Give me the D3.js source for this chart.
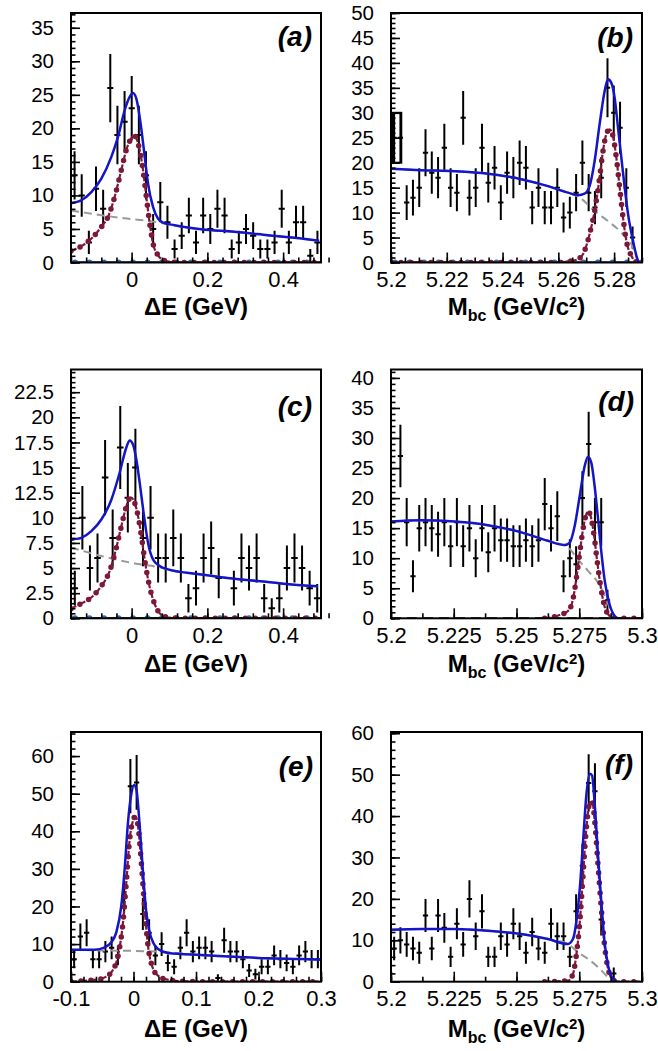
<!DOCTYPE html>
<html>
<head>
<meta charset="utf-8">
<script src="https://cdn.jsdelivr.net/npm/d3@7"></script>
<style>
  body { margin: 0; background: #fff; }
  svg { display: block; }
</style>
</head>
<body>
<svg width="658" height="1051"></svg>
<script>
// ---------- data ----------

// (a) Delta E
const countsA = [13,10,3,11,8,26,19,21,23,19,13,5,9,6,2,4,7,3,7,5,8,7,2,3,5,4,2,2,3,8,3,6,6,1,3];
const totalA = [[-0.16,8.85],[-0.1327,9.28],[-0.1063,10.5],[-0.0799,12.5],[-0.0535,15.74],[-0.0359,18.72],[-0.0183,22.7],[-0.0051,24.68],[0.0037,25.27],[0.0125,24.43],[0.0213,21.7],[0.0327,16.7],[0.0433,11.8],[0.0565,8.29],[0.0697,6.55],[0.0829,5.96],[0.1137,5.56],[0.184,4.97],[0.272,4.57],[0.36,4.07],[0.448,3.57],[0.495,3.25]];
const signalA = [[-0.16,1.7],[-0.1547,1.84],[-0.1283,2.58],[-0.1019,3.82],[-0.0799,5.31],[-0.0623,6.8],[-0.0447,9.8],[-0.0271,13.8],[-0.0139,16.8],[-0.0007,18.52],[0.0055,19.0],[0.0125,18.52],[0.0213,16.8],[0.0301,13.8],[0.0389,9.8],[0.0477,5.86],[0.0565,2.83],[0.0697,1.09],[0.0829,0.35],[0.1137,0.05],[0.15,0],[0.5,0]];
const bkgA = [[-0.16,7.75],[-0.12,7.4],[-0.08,7.05],[-0.02,6.6],[0.0433,6.2],[0.0829,5.85],[0.1137,5.5],[0.184,4.95],[0.272,4.55],[0.36,4.05],[0.448,3.55],[0.495,3.22]];

// (b) Mbc
const countsB = [25,25,12,13,15,22,18,17,23,15,14,29,13,15,23,16,19,12,18,17,20,19,11,15,11,11,15,9,10,14,20,14,11,17,35,30,27,15,5,0];
const totalB = [[5.2,18.8],[5.2109,18.5],[5.2228,18.3],[5.2348,17.8],[5.2467,16.7],[5.2563,15.3],[5.2635,14.0],[5.2671,13.5],[5.2694,13.8],[5.2712,15.3],[5.273,20.3],[5.2748,27.7],[5.2766,34.3],[5.2778,36.7],[5.279,36.0],[5.2802,33.0],[5.2814,27.0],[5.2826,21.0],[5.2838,15.0],[5.285,9.7],[5.2868,4.3],[5.2886,0.33],[5.289,0]];
const signalB = [[5.2,0],[5.26,0],[5.2635,0.2],[5.2671,0.67],[5.2694,2.33],[5.2712,5.67],[5.273,10.3],[5.2748,17.0],[5.276,22.3],[5.2772,25.7],[5.2784,26.7],[5.2796,25.3],[5.2808,21.0],[5.282,15.0],[5.2832,9.0],[5.2844,4.3],[5.2862,1.33],[5.2886,0],[5.29,0]];
const bkgB = [[5.2,18.8],[5.2109,18.5],[5.2228,18.3],[5.2348,17.8],[5.2467,16.7],[5.2563,15.3],[5.2635,14.0],[5.2677,13.0],[5.273,10.3],[5.2778,8.3],[5.2826,6.0],[5.2868,3.0],[5.2886,0.33],[5.289,0]];

// (c) Delta E
const countsC = [3,10,5,6,14,8,17,12,15,8,10,6,6,8,6,2,3,6,7,4,0,3,6,5,6,2,1,2,5,6,5,3,2];
const totalC = [[-0.16,7.8],[-0.1547,7.85],[-0.1327,8.01],[-0.1063,8.68],[-0.0799,9.83],[-0.0535,11.8],[-0.0315,14.5],[-0.0139,17.0],[-0.0051,17.7],[0.0037,17.3],[0.0125,15.8],[0.0213,13.5],[0.0327,10.2],[0.0433,7.52],[0.0565,5.86],[0.0741,5.2],[0.0961,4.87],[0.184,4.37],[0.272,3.94],[0.36,3.61],[0.448,3.28],[0.492,3.2]];
const signalC = [[-0.16,0.95],[-0.1547,1.06],[-0.1283,1.56],[-0.1019,2.22],[-0.0799,3.21],[-0.0579,4.7],[-0.0403,7.02],[-0.0271,9.17],[-0.0165,10.8],[-0.0077,11.8],[-0.0007,12.0],[0.0081,11.5],[0.0169,10.2],[0.0257,8.2],[0.0345,5.86],[0.0433,3.9],[0.0565,1.89],[0.0697,0.73],[0.0873,0.17],[0.1137,0.02],[0.15,0],[0.5,0]];
const bkgC = [[-0.16,7.05],[-0.0799,6.2],[0.0081,5.46],[0.0785,5.03],[0.0961,4.85],[0.184,4.37],[0.272,3.94],[0.36,3.61],[0.448,3.28],[0.492,3.19]];

// (d) Mbc
const countsD = [0,27,16,7,15,16,15,14,16,12,16,12,15,10,15,11,15,13,13,12,12,13,12,13,19,15,17,7,10,9,20,29,16,16,3,0,0,0,0,0];
const totalD = [[5.2,16.1],[5.2121,16.3],[5.2254,16.1],[5.2386,15.5],[5.2519,14.3],[5.2625,12.9],[5.2692,12.2],[5.2712,12.6],[5.2732,15.4],[5.2752,20.4],[5.2772,25.4],[5.2785,26.9],[5.2798,25.9],[5.2811,22.1],[5.2825,16.5],[5.2838,11.0],[5.2851,6.4],[5.2871,2.3],[5.2891,0.39],[5.2904,0]];
const signalD = [[5.2612,0],[5.2652,0.28],[5.2679,0.67],[5.2705,1.22],[5.2725,3.17],[5.2738,6.5],[5.2752,10.9],[5.2765,14.8],[5.2778,17.3],[5.2785,17.8],[5.2795,17.06],[5.2809,13.8],[5.2822,9.3],[5.2835,5.4],[5.2849,2.3],[5.2865,0.67],[5.2891,0],[5.3,0]];
const bkgD = [[5.2,16.1],[5.2121,16.3],[5.2254,16.1],[5.2386,15.5],[5.2519,14.3],[5.2625,12.9],[5.2652,12.6],[5.2705,11.8],[5.2745,9.8],[5.2785,7.9],[5.2825,5.9],[5.2858,3.2],[5.2878,0.94],[5.2891,0]];

// (e) Delta E
const countsE = [6,12,13,6,6,8,9,7,23,52,53,18,13,7,10,5,4,9,13,8,9,9,8,1,11,8,8,6,3,2,4,4,7,6,5,4,7,8,6,6];
const totalE = [[-0.1,8.51],[-0.0621,8.51],[-0.0461,9.13],[-0.0355,10.5],[-0.0275,13.1],[-0.0195,20.2],[-0.0141,30.0],[-0.0088,42.4],[-0.0035,49.9],[0.0008,52.3],[0.0045,51.2],[0.0099,41.5],[0.0152,29.1],[0.0205,18.4],[0.0259,13.1],[0.0312,10.5],[0.0392,8.69],[0.0552,7.62],[0.1085,7.09],[0.1619,6.65],[0.2152,6.21],[0.2685,6.03],[0.3,5.85]];
const signalE = [[-0.1,0.05],[-0.0595,0.53],[-0.0461,1.15],[-0.0355,2.48],[-0.0248,6.91],[-0.0168,15.8],[-0.0115,26.4],[-0.0061,37.9],[-0.0008,42.8],[0.0029,44.0],[0.0072,41.5],[0.0125,31.7],[0.0179,19.3],[0.0232,9.57],[0.0296,4.26],[0.0392,1.6],[0.0552,0.53],[0.0819,0.09],[0.12,0],[0.3,0]];
const bkgE = [[-0.1,8.5],[-0.05,8.3],[0,8.2],[0.05,7.9],[0.1085,7.05],[0.1619,6.6],[0.2152,6.2],[0.2685,6.0],[0.3,5.83]];

// (f) Mbc
const countsF = [8,10,9,8,7,16,8,16,13,6,14,9,20,11,17,6,6,11,9,14,11,7,12,8,7,14,11,11,6,17,28,48,46,15,0,2,0,0,0,0];
const totalF = [[5.2,12.56],[5.2121,12.72],[5.2254,12.72],[5.2386,12.32],[5.2519,11.51],[5.2625,10.3],[5.2705,9.1],[5.2725,10.3],[5.2738,14.3],[5.2752,22.4],[5.2765,33.7],[5.2778,44.9],[5.2792,50.2],[5.2801,49.8],[5.2812,42.5],[5.2825,30.4],[5.2838,19.2],[5.2851,9.5],[5.2865,3.9],[5.2884,0.64],[5.2898,0]];
const signalF = [[5.2612,0],[5.2705,0.24],[5.2725,1.85],[5.2738,6.3],[5.2752,14.3],[5.2765,25.6],[5.2778,36.9],[5.2792,43.3],[5.2801,43.7],[5.2812,38.5],[5.2825,28.0],[5.2838,17.6],[5.2851,8.7],[5.2865,3.06],[5.2884,0.48],[5.2904,0],[5.3,0]];
const bkgF = [[5.2,12.56],[5.2121,12.72],[5.2254,12.72],[5.2386,12.32],[5.2519,11.51],[5.2625,10.3],[5.2705,9.1],[5.2745,7.1],[5.2785,5.5],[5.2825,3.5],[5.2858,1.45],[5.2878,0.24],[5.289,0]];

// tick labels
const yTicksA = [0,5,10,15,20,25,30,35];
const yTicksB = [0,5,10,15,20,25,30,35,40,45,50];
const yTicksC = [0,2.5,5,7.5,10,12.5,15,17.5,20,22.5];
const yTicksD = [0,5,10,15,20,25,30,35,40];
const yTicksEF = [0,10,20,30,40,50,60];
const xTicksDE = [0,0.2,0.4];
const xTicksDEe = [-0.1,0,0.1,0.2,0.3];
const xTicksMbcB = [5.2,5.22,5.24,5.26,5.28];
const xTicksMbc = [5.2,5.225,5.25,5.275,5.3];

// ---------- layout ----------
const FONT = "'Liberation Sans', Arial, Helvetica, sans-serif";
const BLUE = "#1414c8", MAROON = "#7d1838", GREY = "#999999";

const panels = [
  {label:'(a)', counts:countsA, total:totalA, signal:signalA, bkg:bkgA, xDomain:[-0.16,0.5], yMax:37.2,
   yTicks:yTicksA, yMinor:1, xTicks:xTicksDE, xMinor:0.04, frame:[71,13,321,262.5], zero:'dots',
   title:'de', titleY:315, labelPos:[312,46]},
  {label:'(b)', counts:countsB, total:totalB, signal:signalB, bkg:bkgB, xDomain:[5.2,5.29], yMax:50,
   yTicks:yTicksB, yMinor:1, xTicks:xTicksMbcB, xMinor:0.005, frame:[391,13,642,262.5], zero:'dots',
   title:'mbc', titleY:315, labelPos:[633,47], firstBox:true},
  {label:'(c)', counts:countsC, total:totalC, signal:signalC, bkg:bkgC, xDomain:[-0.16,0.5], yMax:24.76,
   yTicks:yTicksC, yMinor:0.5, xTicks:xTicksDE, xMinor:0.04, frame:[71,369.5,321,618.3], zero:'dots',
   title:'de', titleY:672, labelPos:[312,416]},
  {label:'(d)', counts:countsD, total:totalD, signal:signalD, bkg:bkgD, xDomain:[5.2,5.3], yMax:41.4,
   yTicks:yTicksD, yMinor:1, xTicks:xTicksMbc, xMinor:0.0125, frame:[391,369.5,642,618.3], zero:'dash',
   title:'mbc', titleY:672, labelPos:[634,411]},
  {label:'(e)', counts:countsE, total:totalE, signal:signalE, bkg:bkgE, xDomain:[-0.1,0.3], yMax:66.4,
   yTicks:yTicksEF, yMinor:2, xTicks:xTicksDEe, xMinor:0.02, frame:[71,732,321,981.7], zero:null,
   title:'de', titleY:1037, labelPos:[313,776]},
  {label:'(f)', counts:countsF, total:totalF, signal:signalF, bkg:bkgF, xDomain:[5.2,5.3], yMax:60.3,
   yTicks:yTicksEF, yMinor:2, xTicks:xTicksMbc, xMinor:0.0125, frame:[391,732,642,981.7], zero:null,
   title:'mbc', titleY:1037, labelPos:[633,774]}
];

const svg = d3.select('svg');
svg.append('rect').attr('width', 658).attr('height', 1051).attr('fill', '#fff');

panels.forEach((p, i) => drawPanel(p, i));

function drawPanel(p, idx) {
  const [L, T, R, B] = p.frame;
  const x = d3.scaleLinear().domain(p.xDomain).range([L, R]);
  const y = d3.scaleLinear().domain([0, p.yMax]).range([B, T]);
  const g = svg.append('g');

  const clipId = 'clip' + idx;
  g.append('clipPath').attr('id', clipId)
    .append('rect').attr('x', L).attr('y', T).attr('width', R - L).attr('height', B - T);
  const plot = g.append('g').attr('clip-path', `url(#${clipId})`);

  const line = d3.line().x(d => x(d[0])).y(d => y(d[1])).curve(d3.curveMonotoneX);

  // zero line of the extra component
  if (p.zero === 'dots') {
    const zl = [[p.xDomain[0], 0], [p.xDomain[1], 0]];
    plot.append('path').attr('d', line(zl)).attr('fill', 'none')
      .attr('stroke', '#1d3c5c').attr('stroke-width', 2.4);
    plot.append('path').attr('d', line(zl)).attr('fill', 'none')
      .attr('stroke', '#2f6fb0').attr('stroke-width', 6)
      .attr('stroke-linecap', 'round').attr('stroke-dasharray', '0 14.5')
      .attr('stroke-dashoffset', -4);
  } else if (p.zero === 'dash') {
    plot.append('path').attr('d', line([[p.xDomain[0], 0], [p.xDomain[1], 0]]))
      .attr('fill', 'none').attr('stroke', '#2f4f6c').attr('stroke-width', 2.4)
      .attr('stroke-dasharray', '10 6');
  }

  // data points with Poisson error bars
  const n = p.counts.length;
  const bw = (p.xDomain[1] - p.xDomain[0]) / n;
  const bins = p.counts.map((c, i) => ({
    lo: p.xDomain[0] + i * bw, hi: p.xDomain[0] + (i + 1) * bw,
    mid: p.xDomain[0] + (i + 0.5) * bw, c: c, e: Math.sqrt(c)
  })).filter(d => d.c > 0);

  const pts = plot.append('g').attr('stroke', '#000').attr('stroke-width', 2);
  pts.selectAll('line.v').data(bins).join('line').attr('class', 'v')
    .attr('x1', d => x(d.mid)).attr('x2', d => x(d.mid))
    .attr('y1', d => y(d.c - d.e)).attr('y2', d => y(d.c + d.e));
  pts.selectAll('line.h').data(bins).join('line').attr('class', 'h')
    .attr('x1', d => x(d.lo) + 0.5).attr('x2', d => x(d.hi) - 0.5)
    .attr('y1', d => y(d.c)).attr('y2', d => y(d.c));
  if (p.firstBox) {
    const d = bins[0];
    pts.append('rect')
      .attr('x', x(d.lo) + 2).attr('y', y(d.c + d.e))
      .attr('width', x(d.hi) - x(d.lo) + 2).attr('height', y(d.c - d.e) - y(d.c + d.e))
      .attr('fill', 'none');
  }

  // background component
  plot.append('path').attr('d', line(p.bkg)).attr('fill', 'none')
    .attr('stroke', GREY).attr('stroke-width', 2).attr('stroke-dasharray', '8 5');

  // signal component: dashed line with round markers
  plot.append('path').attr('d', line(p.signal)).attr('fill', 'none')
    .attr('stroke', MAROON).attr('stroke-width', 2.2).attr('stroke-dasharray', '6 4');
  plot.append('path').attr('d', line(p.signal)).attr('fill', 'none')
    .attr('stroke', MAROON).attr('stroke-width', 5.5)
    .attr('stroke-linecap', 'round').attr('stroke-dasharray', '0 10');

  // total fit
  plot.append('path').attr('d', line(p.total)).attr('fill', 'none')
    .attr('stroke', BLUE).attr('stroke-width', 2.5);

  // axes
  const yMinorTicks = d3.range(0, p.yMax + 1e-9, p.yMinor);
  g.append('g').attr('transform', `translate(${L},0)`)
    .call(d3.axisLeft(y).tickValues(yMinorTicks).tickSizeInner(-4.5).tickSizeOuter(0).tickFormat(''))
    .call(a => a.select('.domain').remove());
  g.append('g').attr('transform', `translate(${L},0)`)
    .call(d3.axisLeft(y).tickValues(p.yTicks).tickSizeInner(-9).tickSizeOuter(0)
      .tickPadding(17).tickFormat(d => String(d)))
    .call(a => a.select('.domain').remove())
    .call(a => a.selectAll('text').attr('font-size', 20.5).attr('font-family', FONT).attr('fill', '#000'));

  const xMinorTicks = d3.range(0, Math.round((p.xDomain[1] - p.xDomain[0]) / p.xMinor) + 1)
    .map(k => p.xDomain[0] + k * p.xMinor);
  g.append('g').attr('transform', `translate(0,${B})`)
    .call(d3.axisBottom(x).tickValues(xMinorTicks).tickSizeInner(-5).tickSizeOuter(0).tickFormat(''))
    .call(a => a.select('.domain').remove());
  g.append('g').attr('transform', `translate(0,${B})`)
    .call(d3.axisBottom(x).tickValues(p.xTicks).tickSizeInner(-10).tickSizeOuter(0)
      .tickPadding(9).tickFormat(d => String(d)))
    .call(a => a.select('.domain').remove())
    .call(a => a.selectAll('text').attr('font-size', 22).attr('font-family', FONT).attr('fill', '#000'));
  g.selectAll('.tick line').attr('stroke', '#000').attr('stroke-width', 1.6);

  // frame
  g.append('rect').attr('x', L).attr('y', T).attr('width', R - L).attr('height', B - T)
    .attr('fill', 'none').attr('stroke', '#000').attr('stroke-width', 2);

  // panel label
  g.append('text').attr('x', p.labelPos[0]).attr('y', p.labelPos[1])
    .attr('text-anchor', 'end').attr('font-family', FONT)
    .attr('font-weight', 'bold').attr('font-style', 'italic').attr('font-size', 28)
    .text(p.label);

  // axis title
  const cx = (L + R) / 2;
  const t = g.append('text').attr('x', cx).attr('y', p.titleY).attr('text-anchor', 'middle')
    .attr('font-family', FONT).attr('font-weight', 'bold').attr('font-size', 24);
  if (p.title === 'de') {
    t.text('\u0394E (GeV)');
  } else {
    t.append('tspan').text('M');
    t.append('tspan').attr('font-size', 16).attr('dy', 6).text('bc');
    t.append('tspan').attr('dy', -6).text(' (GeV/c');
    t.append('tspan').attr('font-size', 15).attr('dy', -8).text('2');
    t.append('tspan').attr('dy', 8).text(')');
  }
}
</script>
</body>
</html>
